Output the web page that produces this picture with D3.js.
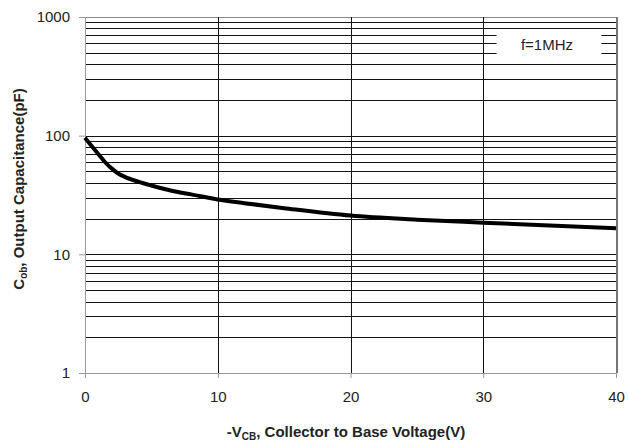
<!DOCTYPE html>
<html>
<head>
<meta charset="utf-8">
<script src="https://cdn.jsdelivr.net/npm/d3@7"></script>
<style>
  body { margin: 0; background: #fff; }
  text { font-family: "Liberation Sans", Arial, sans-serif; fill: #222; }
</style>
</head>
<body>
<script>
var width = 629,
  height = 446;

var margin = { top: 17, right: 13, bottom: 73, left: 85 };

// reverse collector-base voltage (V) and output capacitance (pF)
var voltage = [0, 0.5, 1, 1.5, 2, 2.5, 3, 4, 5, 6, 7, 8, 10, 12, 15, 20, 25, 30, 35, 40];
var capacitance = [96, 82, 70, 60, 53, 48, 45, 41, 38, 35.5, 33.5, 32, 29, 27, 24.5, 21.2, 19.6, 18.5, 17.5, 16.6];

var xTicks = [0, 10, 20, 30, 40];
var yTicks = [1, 10, 100, 1000];
var legendLabel = "f=1MHz";

var svg = d3.select("body").append("svg")
  .attr("width", width)
  .attr("height", height);

var x = d3.scaleLinear()
  .domain([0, 40])
  .range([margin.left, width - margin.right]);

var y = d3.scaleLog()
  .domain([1, 1000])
  .range([height - margin.bottom, margin.top]);

// every 1..9 step of each decade gets a gridline
var minor = [];
[1, 10, 100].forEach(function(d) {
  for (var k = 1; k < 10; k++) minor.push(d * k);
});
minor.push(1000);

var grid = svg.append("g").attr("shape-rendering", "crispEdges");

grid.selectAll(".hgrid")
  .data(minor.filter(function(d) { return d > 1; }))
  .enter().append("line")
  .attr("class", "hgrid")
  .attr("x1", x(0))
  .attr("x2", x(40))
  .attr("y1", function(d) { return Math.round(y(d)) + 0.5; })
  .attr("y2", function(d) { return Math.round(y(d)) + 0.5; })
  .attr("stroke", function(d) { return d === 1000 ? "#888" : "#111"; })
  .attr("stroke-width", 1);

grid.selectAll(".vgrid")
  .data(xTicks.filter(function(d) { return d > 0 && d < 40; }))
  .enter().append("line")
  .attr("class", "vgrid")
  .attr("x1", function(d) { return Math.round(x(d)) + 0.5; })
  .attr("x2", function(d) { return Math.round(x(d)) + 0.5; })
  .attr("y1", y(1000))
  .attr("y2", y(1))
  .attr("stroke", "#111");

// right border of plot area
grid.append("line")
  .attr("x1", x(40) + 0.5).attr("x2", x(40) + 0.5)
  .attr("y1", y(1000)).attr("y2", y(1))
  .attr("stroke", "#777").attr("stroke-width", 2);

// axes
var xAxis = d3.axisBottom(x)
  .tickValues(xTicks)
  .tickSize(5)
  .tickPadding(13);

var yAxis = d3.axisLeft(y)
  .tickValues(yTicks)
  .tickFormat(d3.format("d"))
  .tickSize(6)
  .tickPadding(9);

var gx = svg.append("g")
  .attr("transform", "translate(0," + y(1) + ")")
  .call(xAxis);

var gy = svg.append("g")
  .attr("transform", "translate(" + x(0) + ",0)")
  .call(yAxis);

[gx, gy].forEach(function(g) {
  g.select(".domain").attr("stroke", "#999");
  g.selectAll(".tick line").attr("stroke", "#999");
  g.selectAll(".tick text")
    .style("font-family", "'Liberation Sans', Arial, sans-serif")
    .style("font-size", "15px")
    .attr("fill", "#222");
});
gx.select(".domain").attr("d", "M" + x(0) + ",0.5H" + x(40));
gy.select(".domain").attr("d", "M0.5," + y(1) + "V" + y(1000));

// legend box
var legend = svg.append("g");
legend.append("rect")
  .attr("x", x(31))
  .attr("y", y(760))
  .attr("width", x(38.9) - x(31))
  .attr("height", y(480) - y(760))
  .attr("fill", "#fff");
legend.append("text")
  .attr("x", x(34.8))
  .attr("y", y(580))
  .attr("dy", "0.35em")
  .attr("text-anchor", "middle")
  .style("font-size", "15px")
  .text(legendLabel);

// curve
var line = d3.line()
  .x(function(d, i) { return x(voltage[i]); })
  .y(function(d) { return y(d); })
  .curve(d3.curveMonotoneX);

svg.append("path")
  .datum(capacitance)
  .attr("fill", "none")
  .attr("stroke", "#000")
  .attr("stroke-width", 4)
  .attr("d", line);

// axis titles
var xt = svg.append("text")
  .attr("x", 346)
  .attr("y", 437)
  .attr("text-anchor", "middle")
  .style("font-size", "15px")
  .style("font-weight", "bold");
xt.append("tspan").text("-V");
xt.append("tspan").attr("dy", 3).style("font-size", "10px").text("CB");
xt.append("tspan").attr("dy", -3).text(", Collector to Base Voltage(V)");

var yt = svg.append("text")
  .attr("transform", "translate(24,189) rotate(-90)")
  .attr("text-anchor", "middle")
  .style("font-size", "15px")
  .style("font-weight", "bold");
yt.append("tspan").text("C");
yt.append("tspan").attr("dy", 3).style("font-size", "10px").text("ob");
yt.append("tspan").attr("dy", -3).text(", Output Capacitance(pF)");
</script>
</body>
</html>
